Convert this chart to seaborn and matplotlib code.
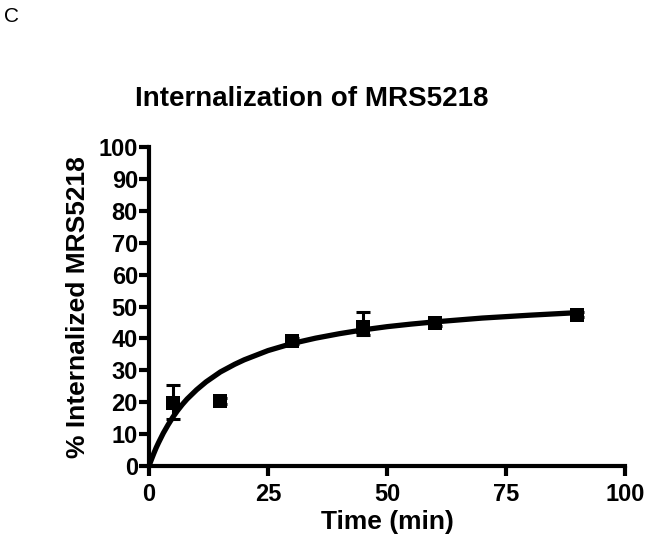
import numpy as np
import pandas as pd
import matplotlib
matplotlib.use("Agg")
import matplotlib.pyplot as plt
import seaborn as sns

# -----------------------------
# Data
# -----------------------------
time_min = [5, 15, 30, 45, 60, 90]
internalized = [19.8, 20.4, 39.2, 43.7, 44.7, 47.4]
err_low = [5.2, 0.8, 0.8, 2.5, 0.8, 0.8]
err_high = [5.5, 0.8, 0.8, 4.5, 0.8, 0.8]

fit_time = [0, 0.5, 1, 1.5, 2, 3, 4, 5, 6, 7, 8, 10, 12, 15, 18, 20, 25,
            30, 35, 40, 45, 50, 55, 60, 70, 80, 90]
fit_value = [0, 2.0, 3.9, 5.7, 7.3, 10.3, 12.9, 15.3, 17.4, 19.3, 21.0,
             23.9, 26.4, 29.5, 31.9, 33.3, 36.2, 38.4, 40.1, 41.5, 42.7,
             43.7, 44.5, 45.2, 46.4, 47.3, 48.1]

x_ticks = [0, 25, 50, 75, 100]
y_ticks = [0, 10, 20, 30, 40, 50, 60, 70, 80, 90, 100]

points = pd.DataFrame({"Time": time_min, "Value": internalized})
fit = pd.DataFrame({"Time": fit_time, "Value": fit_value})

# -----------------------------
# Style
# -----------------------------
sns.set_style("ticks")
plt.rcParams["font.family"] = ["Liberation Sans", "DejaVu Sans"]
plt.rcParams["text.color"] = "black"
plt.rcParams["axes.labelcolor"] = "black"
plt.rcParams["xtick.color"] = "black"
plt.rcParams["ytick.color"] = "black"
plt.rcParams["axes.edgecolor"] = "black"

fig = plt.figure(figsize=(6.45, 5.41), dpi=100)
ax = fig.add_axes([0.231, 0.1386, 0.738, 0.5894])

# -----------------------------
# Plot
# -----------------------------
sns.lineplot(data=fit, x="Time", y="Value", color="black", linewidth=3.8,
             ax=ax, sort=True, clip_on=False, zorder=3,
             solid_joinstyle="round", solid_capstyle="butt")
ax.errorbar(time_min, internalized, yerr=[err_low, err_high], fmt="none",
            ecolor="black", elinewidth=2.2, capsize=5, capthick=2.2,
            zorder=4, clip_on=False)
sns.scatterplot(data=points, x="Time", y="Value", marker="s", s=100,
                color="black", edgecolor="black", linewidth=0, ax=ax,
                zorder=5, clip_on=False)

ax.set_xlim(0, 100)
ax.set_ylim(0, 100)
ax.set_xticks(x_ticks)
ax.set_yticks(y_ticks)

for side in ["top", "right"]:
    ax.spines[side].set_visible(False)
for side in ["left", "bottom"]:
    ax.spines[side].set_linewidth(3)
    ax.spines[side].set_color("black")

ax.tick_params(axis="both", length=7, width=3, color="black",
               labelsize=17, labelcolor="black")
ax.tick_params(axis="x", pad=5)
ax.tick_params(axis="y", pad=1)
for lbl in ax.get_xticklabels() + ax.get_yticklabels():
    lbl.set_fontweight("bold")

ax.set_xlabel("Time (min)", fontsize=19, fontweight="bold", labelpad=3,
              color="black")
ax.set_ylabel("% Internalized MRS5218", fontsize=19, fontweight="bold",
              labelpad=6, color="black")

fig.text(0.484, 1 - 99 / 541, "Internalization of MRS5218", fontsize=20,
         fontweight="bold", ha="center", va="center", color="black")
fig.text(0.006, 1 - 16 / 541, "C", fontsize=15, ha="left", va="center",
         color="black")

fig.savefig("out.png", dpi=100)
